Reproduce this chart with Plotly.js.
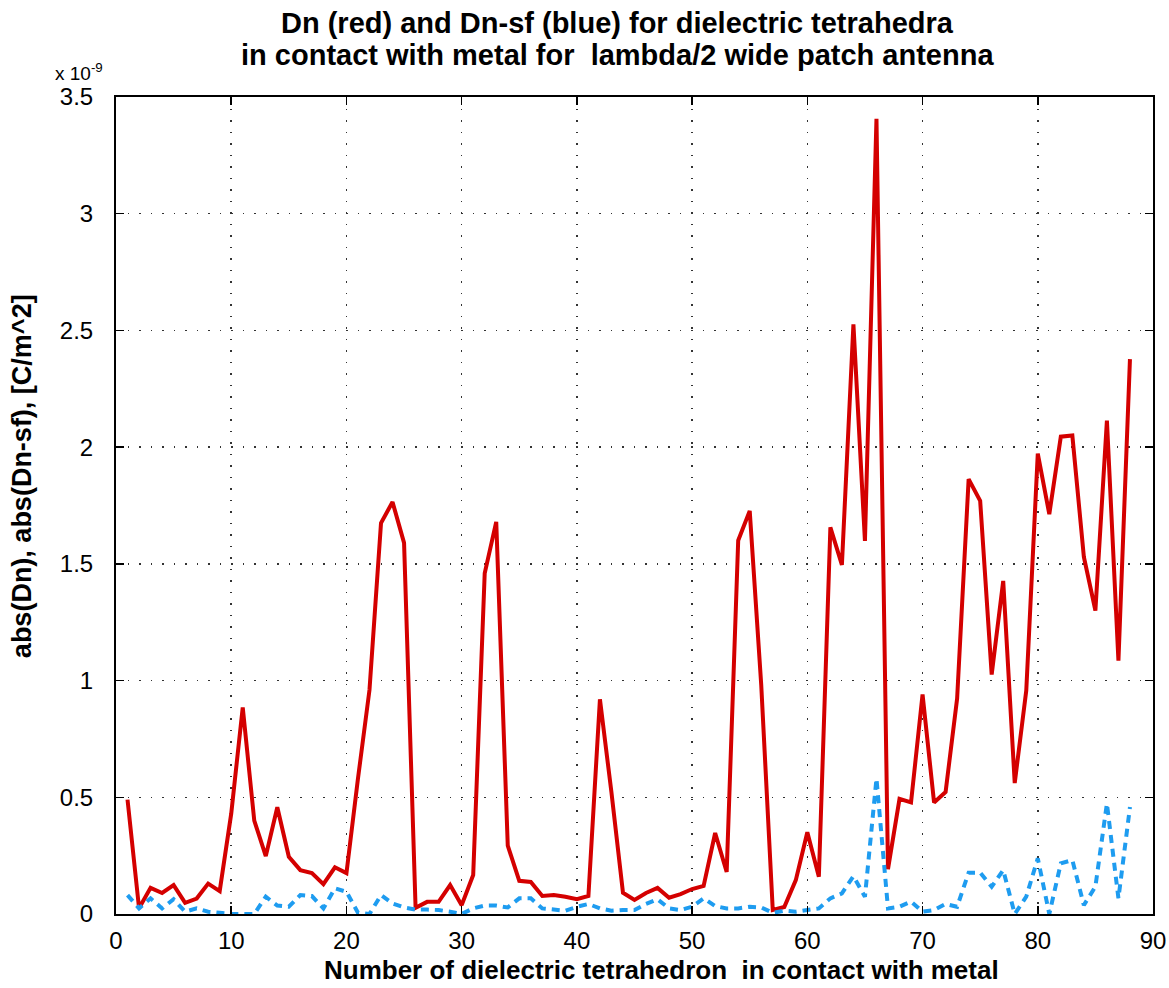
<!DOCTYPE html>
<html>
<head>
<meta charset="utf-8">
<script src="https://cdn.plot.ly/plotly-3.0.1.min.js"></script>
<style>
html,body{margin:0;padding:0;background:#fff;}
#chart{width:1169px;height:988px;}
</style>
</head>
<body>
<div id="chart"></div>
<script>
// Tetrahedron index
const tetraIndex = Array.from({length: 88}, (_, i) => i + 1);
// abs(Dn), units of 1e-9 C/m^2 (red)
const dnValues = [
  0.49, 0.025, 0.112, 0.09, 0.124, 0.048, 0.066, 0.13, 0.098, 0.43,
  0.885, 0.40, 0.248, 0.457, 0.245, 0.188, 0.175, 0.128, 0.20, 0.175,
  0.58, 0.96, 1.675, 1.765, 1.59, 0.027, 0.052, 0.052, 0.124, 0.038,
  0.167, 1.46, 1.68, 0.293, 0.142, 0.137, 0.077, 0.081, 0.074, 0.063,
  0.077, 0.92, 0.52, 0.091, 0.06, 0.09, 0.112, 0.07, 0.085, 0.107,
  0.12, 0.347, 0.18, 1.60, 1.727, 0.98, 0.017, 0.03, 0.145, 0.35,
  0.16, 1.656, 1.496, 2.526, 1.598, 3.407, 0.192, 0.493, 0.478, 0.94,
  0.478, 0.523, 0.923, 1.863, 1.77, 1.026, 1.427, 0.561, 0.957, 1.972,
  1.713, 2.045, 2.05, 1.53, 1.30, 2.114, 1.085, 2.377
];
// abs(Dn-sf), units of 1e-9 C/m^2 (blue)
const dnsfValues = [
  0.081, 0.024, 0.067, 0.024, 0.063, 0.01, 0.024, 0.01, 0.005, 0.0,
  0.0, 0.0, 0.074, 0.036, 0.031, 0.081, 0.077, 0.024, 0.11, 0.095,
  0.005, 0.0, 0.081, 0.045, 0.028, 0.019, 0.019, 0.017, 0.01, 0.0,
  0.024, 0.036, 0.036, 0.028, 0.067, 0.067, 0.024, 0.017, 0.014, 0.031,
  0.043, 0.024, 0.014, 0.017, 0.017, 0.043, 0.063, 0.024, 0.017, 0.031,
  0.067, 0.034, 0.024, 0.024, 0.031, 0.028, 0.005, 0.014, 0.01, 0.017,
  0.024, 0.067, 0.088, 0.162, 0.074, 0.58, 0.024, 0.031, 0.053, 0.01,
  0.017, 0.043, 0.031, 0.177, 0.177, 0.117, 0.188, 0.0, 0.074, 0.238,
  0.0, 0.217, 0.231, 0.038, 0.117, 0.473, 0.067, 0.458
];
const xTicks = [0, 10, 20, 30, 40, 50, 60, 70, 80, 90];
const yTicks = [0, 0.5, 1, 1.5, 2, 2.5, 3, 3.5];
const yTickText = ['0', '0.5', '1', '1.5', '2', '2.5', '3', '3.5'];
const titleLines = [
  'Dn (red) and Dn-sf (blue) for dielectric tetrahedra',
  'in contact with metal for&nbsp; lambda/2 wide patch antenna'
];
const xTitle = 'Number of dielectric tetrahedron&nbsp; in contact with metal';
const yTitle = 'abs(Dn), abs(Dn-sf), [C/m^2]';

const FONT = 'Liberation Sans, Arial, Helvetica, sans-serif';

const traces = [
  {x: tetraIndex, y: dnValues, type: 'scatter', mode: 'lines',
   line: {color: '#d40000', width: 4}, hoverinfo: 'skip'},
  {x: tetraIndex, y: dnsfValues, type: 'scatter', mode: 'lines',
   line: {color: '#1e9cf0', width: 4, dash: '8px,6px'}, hoverinfo: 'skip'}
];

const axisCommon = {
  showline: true, linecolor: '#000', linewidth: 2, mirror: 'ticks',
  ticks: 'inside', ticklen: 8, tickwidth: 1.5, tickcolor: '#000',
  showgrid: true, gridcolor: '#333', griddash: '1.5px,10px', gridwidth: 1.5,
  zeroline: false,
  tickfont: {family: FONT, size: 24, color: '#000'}
};

const layout = {
  width: 1169, height: 988,
  paper_bgcolor: '#fff', plot_bgcolor: '#fff',
  showlegend: false,
  margin: {l: 116, r: 16, t: 97, b: 74},
  xaxis: Object.assign({}, axisCommon, {
    range: [0, 90], tickvals: xTicks, ticktext: xTicks.map(String),
    ticklabelstandoff: 4
  }),
  yaxis: Object.assign({}, axisCommon, {
    range: [0, 3.5], tickvals: yTicks, ticktext: yTickText,
    ticklabelstandoff: 16
  }),
  annotations: [
    {text: '<b>' + titleLines[0] + '</b>', showarrow: false,
     xref: 'paper', yref: 'paper', x: 0.4836, y: 1.0906, xanchor: 'center', yanchor: 'middle',
     font: {family: FONT, size: 29, color: '#000'}},
    {text: '<b>' + titleLines[1] + '</b>', showarrow: false,
     xref: 'paper', yref: 'paper', x: 0.4836, y: 1.0515, xanchor: 'center', yanchor: 'middle',
     font: {family: FONT, size: 29, color: '#000'}},
    {text: '<b>' + xTitle + '</b>', showarrow: false,
     xref: 'paper', yref: 'paper', x: 0.5256, y: -0.0685, xanchor: 'center', yanchor: 'middle',
     font: {family: FONT, size: 26, color: '#000'}},
    {text: '<b>' + yTitle + '</b>', showarrow: false, textangle: -90,
     xref: 'paper', yref: 'paper', x: -0.0906, y: 0.536, xanchor: 'center', yanchor: 'middle',
     font: {family: FONT, size: 27, color: '#000'}},
    {text: 'x 10<sup>-9</sup>', showarrow: false,
     xref: 'paper', yref: 'paper', x: -0.061, y: 1.013, xanchor: 'left', yanchor: 'bottom',
     font: {family: FONT, size: 19, color: '#000'}}
  ]
};

Plotly.newPlot('chart', traces, layout, {displayModeBar: false, staticPlot: true});
</script>
</body>
</html>
